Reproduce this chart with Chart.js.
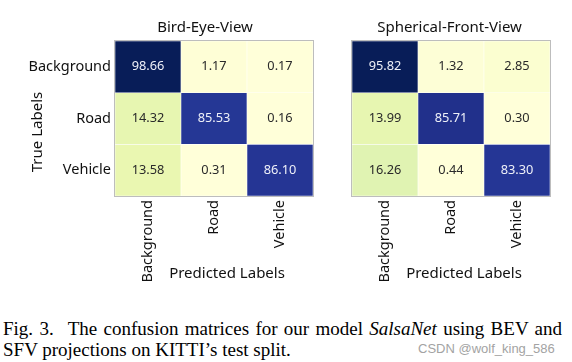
<!DOCTYPE html>
<html>
<head>
<meta charset="utf-8" />
<title>SalsaNet confusion matrices</title>
<script src="https://cdn.jsdelivr.net/npm/chart.js@4.4.0/dist/chart.umd.min.js"></script>
<style>
	body { margin: 0; background: #fff; width: 572px; height: 362px; overflow: hidden; position: relative; }
	.box { position: absolute; top: 0; height: 290px; }
	#leftBox { left: 0; width: 330px; }
	#rightBox { left: 330px; width: 242px; }
	.cap { position: absolute; left: 3px; font-family: "Liberation Serif", serif; font-size: 19px;
		line-height: 21px; color: #000; }
	#cap1 { top: 318px; width: 559px; text-align: justify; text-align-last: justify; }
	#cap2 { top: 339px; white-space: nowrap; }
	#mark { position: absolute; left: 418px; top: 341px; font-family: "Liberation Sans", sans-serif;
		font-size: 13px; color: #a3a3a3; white-space: nowrap; }
</style>
</head>
<body>

<div class="box" id="leftBox"><canvas id="bevChart"></canvas></div>
<div class="box" id="rightBox"><canvas id="sfvChart"></canvas></div>

<div class="cap" id="cap1"><span style="margin-right:14px">Fig. 3.</span>The confusion matrices for our model <i>SalsaNet</i> using BEV and</div>
<div class="cap" id="cap2">SFV projections on KITTI’s test split.</div>
<div id="mark">CSDN @wolf_king_586</div>

<script>
// predicted classes (columns) and true classes (rows)
var predLabels = ['Background', 'Road', 'Vehicle']
var trueLabels = ['Background', 'Road', 'Vehicle']

// Bird-Eye-View, one array per true label
var bevBackground = [98.66, 1.17, 0.17]
var bevRoad = [14.32, 85.53, 0.16]
var bevVehicle = [13.58, 0.31, 86.10]

// Spherical-Front-View
var sfvBackground = [95.82, 1.32, 2.85]
var sfvRoad = [13.99, 85.71, 0.30]
var sfvVehicle = [16.26, 0.44, 83.30]

var FONT = '"Noto Sans", sans-serif'

// YlGnBu colour map
var ylgnbu = ['#ffffd9', '#edf8b1', '#c7e9b4', '#7fcdbb', '#41b6c4', '#1d91c0', '#225ea8', '#253494', '#081d58']
function hexRgb(h) {
	return [parseInt(h.substr(1, 2), 16), parseInt(h.substr(3, 2), 16), parseInt(h.substr(5, 2), 16)]
}
function cmap(t) {
	t = Math.max(0, Math.min(1, t))
	var p = t * (ylgnbu.length - 1)
	var i = Math.min(Math.floor(p), ylgnbu.length - 2)
	var f = p - i
	var a = hexRgb(ylgnbu[i]), b = hexRgb(ylgnbu[i + 1])
	var c = a.map(function (v, k) { return Math.round(v + (b[k] - v) * f) })
	return 'rgb(' + c.join(',') + ')'
}

// cell numbers, frame and axis titles
var matrixText = {
	id: 'matrixText',
	afterDatasetsDraw: function (chart, args, o) {
		var ctx = chart.ctx
		var a = chart.chartArea
		ctx.save()
		ctx.textAlign = 'center'
		ctx.textBaseline = 'middle'
		ctx.font = '12.8px ' + FONT
		chart.data.datasets.forEach(function (ds, i) {
			chart.getDatasetMeta(i).data.forEach(function (el, j) {
				var v = o.values[i][j]
				ctx.fillStyle = v > 50 ? '#eef0f8' : '#2a2a2a'
				ctx.fillText(v.toFixed(2), el.x, (el.y + el.base) / 2)
			})
		})
		ctx.strokeStyle = '#bdbdbd'
		ctx.lineWidth = 1
		ctx.strokeRect(a.left - 0.5, a.top - 0.5, a.right - a.left + 1, a.bottom - a.top + 1)

		var cx = (a.left + a.right) / 2
		ctx.fillStyle = '#111'
		ctx.font = '15px ' + FONT
		ctx.fillText(o.title, cx + o.titleDx, 28)
		ctx.fillText('Predicted Labels', cx + 13, 274)
		if (o.yTitle) {
			ctx.translate(38, 132)
			ctx.rotate(-Math.PI / 2)
			ctx.fillText(o.yTitle, 0, 0)
		}
		ctx.restore()
	}
}

function makeChart(id, rows, opts) {
	var all = [].concat.apply([], rows)
	var lo = Math.min.apply(null, all), hi = Math.max.apply(null, all)
	var datasets = rows.map(function (row, i) {
		return {
			label: trueLabels[i],
			data: row.map(function () { return [i, i + 1] }),
			backgroundColor: row.map(function (v) { return cmap((v - lo) / (hi - lo)) }),
			borderColor: 'rgba(255,255,255,0.7)',
			borderWidth: 0.6,
			borderSkipped: false,
			barPercentage: 1,
			categoryPercentage: 1,
			grouped: false
		}
	})
	return new Chart(id, {
		type: 'bar',
		data: { labels: predLabels, datasets: datasets },
		plugins: [matrixText],
		options: {
			responsive: true,
			maintainAspectRatio: false,
			animation: false,
			layout: { padding: { top: 41, right: opts.right, left: 0, bottom: 0 } },
			plugins: {
				legend: { display: false },
				tooltip: { enabled: false },
				matrixText: { values: rows, title: opts.title, titleDx: opts.titleDx, yTitle: opts.yTitle }
			},
			scales: {
				x: {
					grid: { display: false, drawTicks: false },
					border: { display: false },
					ticks: {
						maxRotation: 90, minRotation: 90, padding: 4, color: '#111',
						font: { family: FONT, size: 14.5 }
					},
					afterFit: function (s) { s.height = 94 }
				},
				y: {
					type: 'linear', min: 0, max: 3, reverse: true,
					grid: { display: false, drawTicks: false },
					border: { display: false },
					afterBuildTicks: function (s) {
						s.ticks = [0.5, 1.5, 2.5].map(function (v) { return { value: v } })
					},
					ticks: {
						display: opts.showY, padding: 4, color: '#111',
						font: { family: FONT, size: 14.5 },
						callback: function (v) { return trueLabels[Math.floor(v)] }
					},
					afterFit: function (s) { s.width = opts.yWidth }
				}
			}
		}
	})
}

makeChart('bevChart', [bevBackground, bevRoad, bevVehicle],
	{ title: 'Bird-Eye-View', titleDx: -9, yTitle: 'True Labels', showY: true, yWidth: 115, right: 17 })
makeChart('sfvChart', [sfvBackground, sfvRoad, sfvVehicle],
	{ title: 'Spherical-Front-View', titleDx: -1.5, yTitle: null, showY: false, yWidth: 22, right: 22 })
</script>

</body>
</html>
